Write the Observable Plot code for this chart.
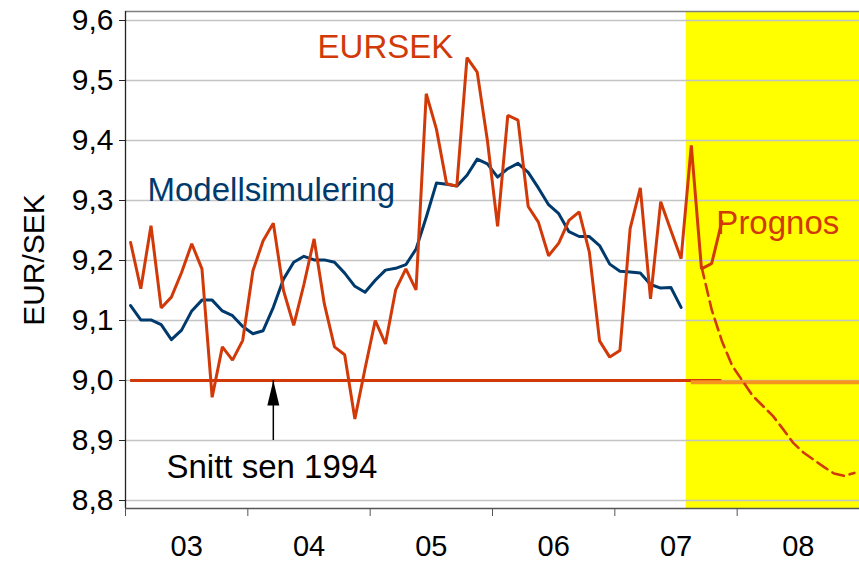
<!DOCTYPE html>
<html>
<head>
<meta charset="utf-8">
<script src="https://cdn.jsdelivr.net/npm/d3@7"></script>
<script src="https://cdn.jsdelivr.net/npm/@observablehq/plot@0.6"></script>
<style>
  html, body { margin: 0; padding: 0; background: #ffffff; }
  #chart svg { display: block; }
</style>
</head>
<body>
<div id="chart"></div>
<script>
// ---- data (monthly, starting January 2003) ----
const firstYear = 2003;
const eursek = [
  9.230, 9.153, 9.258, 9.121, 9.139, 9.180, 9.228, 9.186, 8.972, 9.056, 9.034, 9.067,
  9.183, 9.233, 9.262, 9.150, 9.092, 9.160, 9.236, 9.128, 9.056, 9.043, 8.936, 9.020,
  9.100, 9.061, 9.151, 9.186, 9.151, 9.478, 9.419, 9.328, 9.324, 9.538, 9.514, 9.400,
  9.257, 9.442, 9.434, 9.290, 9.264, 9.208, 9.229, 9.267, 9.281, 9.214, 9.066, 9.039,
  9.050, 9.253, 9.321, 9.136, 9.298, 9.250, 9.203, 9.392, 9.186, 9.195, 9.265
];
const modell = [
  9.125, 9.101, 9.101, 9.093, 9.068, 9.084, 9.116, 9.134, 9.134, 9.116, 9.108, 9.090,
  9.078, 9.083, 9.122, 9.169, 9.197, 9.207, 9.201, 9.201, 9.197, 9.179, 9.157, 9.147,
  9.167, 9.184, 9.187, 9.193, 9.219, 9.272, 9.329, 9.327, 9.324, 9.342, 9.369, 9.361,
  9.339, 9.353, 9.362, 9.347, 9.321, 9.293, 9.278, 9.248, 9.240, 9.240, 9.225, 9.194,
  9.182, 9.181, 9.179, 9.160, 9.154, 9.155, 9.122
];
const prognosStartIndex = 56; // September 2007
const prognos = [
  9.190, 9.118, 9.066, 9.025, 9.000, 8.975, 8.958, 8.941, 8.919, 8.896, 8.880, 8.868,
  8.856, 8.845, 8.841, 8.846
];
const snittValue = 9.0;          // average since 1994
const snittForecastValue = 8.997; // orange continuation in forecast area
const snittEndIndex = 58;
const orangeStartIndex = 55;
const forecastStart = 2007 + 7 / 12;   // yellow area starts
const yTicks = [8.8, 8.9, 9.0, 9.1, 9.2, 9.3, 9.4, 9.5, 9.6];
const years = [2003, 2004, 2005, 2006, 2007, 2008];
const yearLabels = ["03", "04", "05", "06", "07", "08"];
const yearBounds = [2003, 2004, 2005, 2006, 2007, 2008, 2009];
const labels = {
  eursek: "EURSEK", modell: "Modellsimulering", prognos: "Prognos",
  snitt: "Snitt sen 1994", yAxis: "EUR/SEK"
};

// ---- derived tables ----
const monthX = i => firstYear + (i + 0.5) / 12;
const eursekData = eursek.map((v, i) => ({x: monthX(i), y: v}));
const modellData = modell.map((v, i) => ({x: monthX(i), y: v}));
const prognosData = prognos.map((v, i) => ({x: monthX(prognosStartIndex + i), y: v}));
const yMin = 8.7867, yMax = 9.615;
const xMax = 2009;
const arrowX = monthX(14);

const red = "#d13a08", blue = "#003a6c", orange = "#f5941e";
const font = "'Liberation Sans', Arial, Helvetica, sans-serif";

// narrow filled arrow head with tip at the anchor point
const arrowHead = {
  draw(ctx) {
    ctx.moveTo(0, 0);
    ctx.lineTo(6, 25);
    ctx.lineTo(-6, 25);
    ctx.closePath();
  }
};

const chart = Plot.plot({
  width: 859,
  height: 562,
  marginLeft: 125,
  marginRight: 0,
  marginTop: 11,
  marginBottom: 54,
  style: {fontFamily: font, fontSize: "30px", background: "#ffffff", color: "#000"},
  x: {domain: [firstYear, xMax], axis: null},
  y: {domain: [yMin, yMax], axis: null},
  marks: [
    // forecast background
    Plot.rect([0], {x1: forecastStart, x2: xMax, y1: yMin, y2: yMax, fill: "#ffff00"}),
    // gridlines
    Plot.ruleY(yTicks, {stroke: "#c4c4c4", strokeWidth: 1.3}),
    Plot.ruleY([yMax], {stroke: "#7f7f7f", strokeWidth: 1.3}),
    // left axis
    Plot.ruleX([firstYear], {y1: yMin, y2: yMax, stroke: "#222", strokeWidth: 1.3}),
    Plot.axisY({ticks: yTicks, tickSize: 6, tickPadding: 6, tickFormat: d => d.toFixed(1).replace(".", ","),
      fontSize: 30, stroke: "#222", label: null}),
    Plot.text([labels.yAxis], {frameAnchor: "left", dx: -91, rotate: -90, textAnchor: "middle",
      fontSize: 30, fill: "#000"}),
    // bottom axis
    Plot.ruleY([yMin], {stroke: "#555", strokeWidth: 1.5}),
    Plot.axisX({ticks: yearBounds, tickSize: 8, tickFormat: () => "", stroke: "#555", label: null}),
    Plot.text(years, {x: d => d + 0.5, frameAnchor: "bottom", dy: 38, text: (d, i) => yearLabels[i],
      fontSize: 29, fill: "#000", lineAnchor: "middle"}),
    // average line since 1994
    Plot.ruleY([snittValue], {x1: monthX(0), x2: monthX(snittEndIndex), stroke: red, strokeWidth: 3}),
    Plot.ruleY([snittForecastValue], {x1: monthX(orangeStartIndex), x2: xMax, stroke: orange, strokeWidth: 4}),
    // arrow
    Plot.ruleX([arrowX], {y1: 8.9, y2: snittValue, stroke: "#000", strokeWidth: 1.5}),
    Plot.dot([arrowX], {x: d => d, y: () => snittValue, symbol: arrowHead, r: 5, fill: "#000", stroke: "none"}),
    // series
    Plot.line(modellData, {x: "x", y: "y", stroke: blue, strokeWidth: 3, strokeLinejoin: "round"}),
    Plot.line(prognosData, {x: "x", y: "y", stroke: red, strokeWidth: 2.6, strokeDasharray: "12,6"}),
    Plot.line(eursekData, {x: "x", y: "y", stroke: red, strokeWidth: 3, strokeLinejoin: "miter"}),
    // annotations
    Plot.text([labels.eursek], {x: () => 2004.57, y: () => 9.5558, textAnchor: "start", lineAnchor: "middle", fontSize: 33, fill: red}),
    Plot.text([labels.modell], {x: () => 2003.18, y: () => 9.3162, textAnchor: "start", lineAnchor: "middle", fontSize: 33, fill: blue}),
    Plot.text([labels.snitt], {x: () => 2003.335, y: () => 8.8555, textAnchor: "start", lineAnchor: "middle", fontSize: 33, fill: "#000"}),
    Plot.text([labels.prognos], {x: () => 2007.83, y: () => 9.2625, textAnchor: "start", lineAnchor: "middle", fontSize: 33, fill: red})
  ]
});
document.getElementById("chart").appendChild(chart);
</script>
</body>
</html>
